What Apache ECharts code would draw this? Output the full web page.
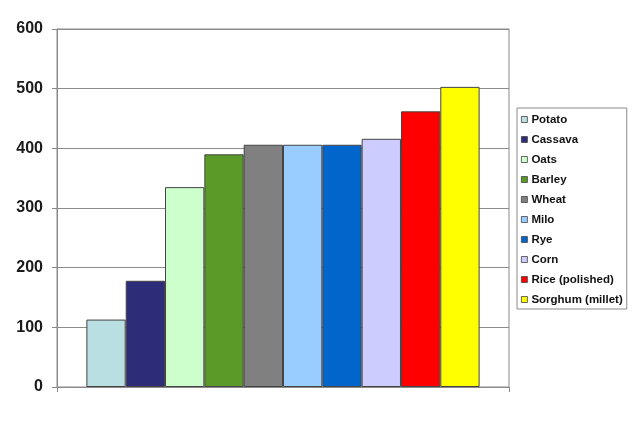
<!DOCTYPE html>
<html>
<head>
<meta charset="utf-8">
<script src="https://cdn.jsdelivr.net/npm/echarts@6/dist/echarts.min.js"></script>
<style>
html,body{margin:0;padding:0;background:#fff;}
#chart{width:635px;height:422px;}
</style>
</head>
<body>
<div id="chart"></div>
<script>
const grains = ['Potato','Cassava','Oats','Barley','Wheat','Milo','Rye','Corn','Rice (polished)','Sorghum (millet)'];
const values = [113, 178, 335, 390, 406, 406, 406, 416, 462, 503];
const colors = ['#b9dfe2','#2c2c78','#ccffcc','#5a9a29','#808080','#99ccff','#0066cc','#ccccff','#ff0000','#ffff00'];
const yTicks = [0, 100, 200, 300, 400, 500, 600];

const chart = echarts.init(document.getElementById('chart'));
const series = grains.map((name, i) => ({
  name: name,
  type: 'bar',
  xAxisIndex: 0,
  data: [values[i]],
  barGap: '0%',
  barCategoryGap: '13%',
  itemStyle: { color: colors[i], borderColor: '#444', borderWidth: 1 },
  emphasis: { disabled: true },
  animation: false
}));

chart.setOption({
  animation: false,
  backgroundColor: '#fff',
  grid: {
    left: 57, top: 29, width: 452, height: 358,
    show: true, borderColor: '#8a8a8a', borderWidth: 1, backgroundColor: 'transparent'
  },
  xAxis: [{
    type: 'category',
    data: [''],
    boundaryGap: true,
    axisLine: { lineStyle: { color: '#8a8a8a', width: 1 } },
    axisTick: { show: false },
    axisLabel: { show: false },
    splitLine: { show: false }
  }, {
    type: 'value',
    position: 'bottom',
    min: 0, max: 1, interval: 1,
    axisLine: { show: false },
    axisTick: { show: true, length: 5, lineStyle: { color: '#8a8a8a' } },
    axisLabel: { show: false },
    splitLine: { show: false }
  }],
  yAxis: {
    type: 'value',
    min: yTicks[0], max: yTicks[yTicks.length - 1], interval: 100,
    axisLine: { show: true, lineStyle: { color: '#8a8a8a', width: 1 } },
    axisTick: { show: true, length: 5, lineStyle: { color: '#8a8a8a' } },
    axisLabel: {
      margin: 14,
      color: '#1a1a1a',
      fontFamily: 'Liberation Sans, Arial, sans-serif',
      fontWeight: 'bold',
      fontSize: 16
    },
    splitLine: { show: true, lineStyle: { color: '#8a8a8a', width: 1 } }
  },
  legend: {
    orient: 'vertical',
    left: 517, top: 108,
    data: grains,
    icon: 'rect',
    itemWidth: 6, itemHeight: 6,
    itemGap: 7,
    padding: [5, 4, 3, 4],
    borderColor: '#8a8a8a', borderWidth: 1,
    selectedMode: false,
    itemStyle: { borderColor: '#444', borderWidth: 0.8 },
    textStyle: {
      color: '#111',
      fontFamily: 'Liberation Sans, Arial, sans-serif',
      fontSize: 11.5,
      fontWeight: 'bold',
      lineHeight: 13,
      padding: [0, 0, 0, -1]
    }
  },
  series: series
});
</script>
</body>
</html>
